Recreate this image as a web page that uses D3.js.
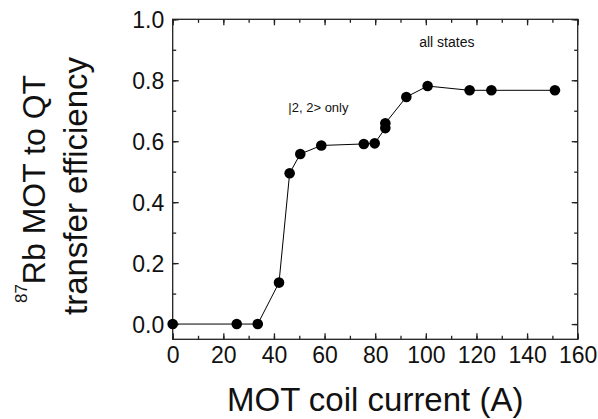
<!DOCTYPE html>
<html>
<head>
<meta charset="utf-8">
<script src="https://cdn.jsdelivr.net/npm/d3@7"></script>
<style>
  body { margin: 0; background: #fff; }
  svg text { font-family: "Liberation Sans", Arial, Helvetica, sans-serif; fill: #111; }
</style>
</head>
<body>
<div id="chart"></div>
<script>
// values
const current = [0, 25.3, 33.6, 42.0, 46.2, 50.4, 58.7, 75.5, 79.8, 84.0, 84.0, 92.3, 100.7, 117.3, 125.9, 151.0];
const efficiency = [0, 0, 0, 0.136, 0.495, 0.558, 0.586, 0.591, 0.593, 0.643, 0.659, 0.745, 0.781, 0.767, 0.767, 0.767];
const xTicks = [0, 20, 40, 60, 80, 100, 120, 140, 160];
const yTicks = [0.0, 0.2, 0.4, 0.6, 0.8, 1.0];
const notes = [
  { text: "all states", x: 108.3, y: 0.908, size: 14, anchor: "middle" },
  { text: "|2, 2> only", x: 45.7, y: 0.697, size: 13, anchor: "start" },
];

class TransferPlot {
  constructor() {
    this.config = {
      width: 598,
      height: 419,
      margin: { top: 19.3, right: 20.3, bottom: 79.7, left: 172.7 },
      parentElement: "#chart",
    };
    this.createVis();
  }

  createVis() {
    const vis = this;
    const m = vis.config.margin;
    const w = vis.config.width - m.left - m.right;
    const h = vis.config.height - m.top - m.bottom;

    const svg = d3.select(vis.config.parentElement).append("svg")
      .attr("width", vis.config.width)
      .attr("height", vis.config.height);
    const g = svg.append("g").attr("transform", `translate(${m.left},${m.top})`);

    const x = d3.scaleLinear().domain([0, 160]).range([0, w]);
    const y = d3.scaleLinear().domain([-0.05, 1.0]).range([h, 0]);

    // inward ticks on all four sides, minor ticks every half step
    const xMinor = d3.range(0, 161, 10);
    const yMinor = d3.range(0, 1.01, 0.1);
    const axisStyle = (sel) => {
      sel.select(".domain").remove();
      sel.selectAll("line").attr("stroke", "#222").attr("stroke-width", 1.3);
    };
    g.append("g").attr("transform", `translate(0,${h})`)
      .call(d3.axisBottom(x).tickValues(xMinor).tickSize(-3.5).tickFormat("")).call(axisStyle);
    g.append("g").attr("transform", `translate(0,${h})`)
      .call(d3.axisBottom(x).tickValues(xTicks).tickSize(-6).tickPadding(23.5).tickFormat(d3.format("d")))
      .call(axisStyle)
      .selectAll("text").attr("font-size", 23).attr("dy", 0);
    g.append("g")
      .call(d3.axisTop(x).tickValues(xMinor).tickSize(-3.5).tickFormat("")).call(axisStyle);
    g.append("g")
      .call(d3.axisTop(x).tickValues(xTicks).tickSize(-6).tickFormat("")).call(axisStyle);

    g.append("g")
      .call(d3.axisLeft(y).tickValues(yMinor).tickSize(-3.5).tickFormat("")).call(axisStyle);
    g.append("g")
      .call(d3.axisLeft(y).tickValues(yTicks).tickSize(-6).tickPadding(8).tickFormat(d3.format(".1f")))
      .call(axisStyle)
      .selectAll("text").attr("font-size", 23).attr("x", -8.5).attr("dy", "0.36em");
    g.append("g").attr("transform", `translate(${w},0)`)
      .call(d3.axisRight(y).tickValues(yMinor).tickSize(-3.5).tickFormat("")).call(axisStyle);
    g.append("g").attr("transform", `translate(${w},0)`)
      .call(d3.axisRight(y).tickValues(yTicks).tickSize(-6).tickFormat("")).call(axisStyle);

    // frame
    g.append("rect")
      .attr("width", w).attr("height", h)
      .attr("fill", "none").attr("stroke", "#222").attr("stroke-width", 1.3);

    const pts = current.map((c, i) => [c, efficiency[i]]);
    g.append("path")
      .datum(pts)
      .attr("fill", "none").attr("stroke", "#000").attr("stroke-width", 1)
      .attr("d", d3.line().x((d) => x(d[0])).y((d) => y(d[1])));
    g.selectAll("circle.pt").data(pts).join("circle")
      .attr("class", "pt")
      .attr("cx", (d) => x(d[0])).attr("cy", (d) => y(d[1]))
      .attr("r", 5.3).attr("fill", "#000");

    g.selectAll("text.note").data(notes).join("text")
      .attr("class", "note")
      .attr("x", (d) => x(d.x)).attr("y", (d) => y(d.y))
      .attr("font-size", (d) => d.size)
      .attr("text-anchor", (d) => d.anchor)
      .text((d) => d.text);

    // axis titles
    svg.append("text")
      .attr("x", m.left + w / 2).attr("y", 411)
      .attr("text-anchor", "middle").attr("font-size", 33)
      .text("MOT coil current (A)");

    const t1 = svg.append("text")
      .attr("transform", "translate(45,189) rotate(-90)")
      .attr("text-anchor", "middle").attr("font-size", 32);
    t1.append("tspan").attr("font-size", 17).attr("dy", -18).text("87");
    t1.append("tspan").attr("dy", 18).text("Rb MOT to QT");
    svg.append("text")
      .attr("transform", "translate(87.3,186) rotate(-90)")
      .attr("text-anchor", "middle").attr("font-size", 33)
      .text("transfer efficiency");
  }
}

new TransferPlot();
</script>
</body>
</html>
